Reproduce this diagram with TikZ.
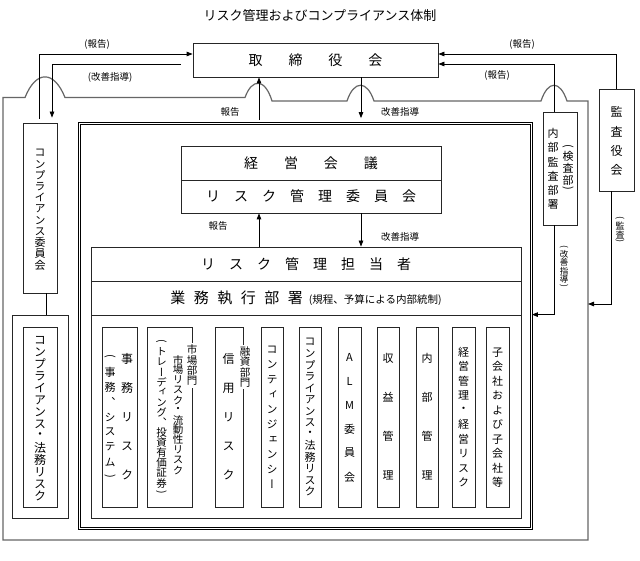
\documentclass[tikz,border=0pt]{standalone}
\usepackage{fontspec}
\usepackage{graphicx}
\usetikzlibrary{arrows.meta}
\setmainfont{Noto Sans CJK JP}
\newfontfamily\jpv[RawFeature=+vert]{Noto Sans CJK JP}
\makeatletter
\newlength\tatesp
\newcommand\tate[3][.5]{\def\tate@f{#1}\setlength\tatesp{#2}\vbox{\offinterlineskip\tate@a#3\@nil}}
\def\tate@a#1{\ifx#1\@nil\else\tate@c#1\expandafter\tate@a\fi}
\def\tate@c#1{%
  \ifx#1(\tate@p{\rotatebox[origin=c]{-90}{(}}%
  \else\ifx#1)\tate@p{\rotatebox[origin=c]{-90}{)}}%
  \else\hbox to 1.02em{\hss\vbox to\tatesp{\vss\hbox{#1}\vss}\hss}\fi\fi}
\def\tate@p#1{\hbox to 1.02em{\hss\vbox to \tate@f\tatesp{\vss\hbox{#1}\vss}\hss}}
\newcommand\spc[2]{\def\spc@g{\hspace{#1}}\spc@a#2\@nil}
\def\spc@a#1{\ifx#1\@nil\else#1\expandafter\spc@b\fi}
\def\spc@b#1{\ifx#1\@nil\else\spc@g#1\expandafter\spc@b\fi}
\makeatother
\tikzset{
  box/.style={draw=black!85, line width=0.8pt, inner sep=0pt},
  arr/.style={draw=black, line width=0.8pt, -{Triangle[length=6pt,width=4.5pt]}},
  conn/.style={draw=black, line width=0.8pt},
  lbl/.style={inner sep=0pt, font=\fontsize{9.5}{9.5}\selectfont},
  vt/.style={inner sep=0pt, font=\jpv\fontsize{#1}{#1}\selectfont},
  vt/.default=11,
  big/.style={font=\fontsize{14}{14}\selectfont},
}
\begin{document}
\begin{tikzpicture}[x=1pt,y=-1pt]
\useasboundingbox[fill=white] (0,0) rectangle (640,561);
% title
\node[inner sep=0pt, font=\fontsize{13}{13}\selectfont] (title) at (320,16) {リスク管理およびコンプライアンス体制};
% outer frame line with hops
\draw[black!60, line width=1.2pt] (3,540) -- (3,97.5) -- (25,97.5)
  .. controls (36,70) and (54,70) .. (65,97.5) -- (245,97.5)
  .. controls (252,78) and (265,78) .. (272,101) -- (347,101)
  .. controls (354,80) and (367,80) .. (374,101) -- (541,101)
  .. controls (548,80) and (560,80) .. (567,101) -- (588,101) -- (588,540) -- cycle;
\coordinate (oR) at (588,304);
\coordinate (xrep) at (259,0);
\coordinate (xguide) at (361,0);
% board
\node[box, big, minimum width=245pt, minimum height=34pt] (board) at (315.5,60) {\spc{26pt}{取締役会}};
% compliance committee
\node[box, minimum width=34pt, minimum height=170pt] (ccomm) at (40,208) {};
\node[vt=11] (ccommt) at (40,209) {\tate{11.2pt}{コンプライアンス委員会}};
\node[box, minimum width=56pt, minimum height=203pt] (clegalout) at (40,416.5) {};
\node[box, minimum width=34pt, minimum height=180pt] (clegal) at (40,417) {};
\node[vt=12] (clegalt) at (40,418) {\tate{12pt}{コンプライアンス・法務リスク}};
% double frame
\node[draw=black, line width=0.8pt, double=white, double distance=1.4pt, inner sep=0pt,
      minimum width=452pt, minimum height=405pt] (frame) at (305.5,326) {};
% management
\node[box, big, minimum width=260pt, minimum height=34pt] (mgmt) at (311,163) {\spc{26pt}{経営会議}};
\node[box, big, minimum width=260pt, minimum height=33pt] (rmc) at (311,196.5) {\spc{14pt}{リスク管理委員会}};
% risk officer block
\node[box, big, minimum width=430pt, minimum height=34pt] (rtop) at (306,264) {\spc{14pt}{リスク管理担当者}};
\node[box, minimum width=430pt, minimum height=34pt] (rmid) at (306,298)
  {{\fontsize{15}{15}\selectfont\spc{8.5pt}{業務執行部署}}\hspace{6pt}{\fontsize{10.5}{10.5}\selectfont(規程、予算による内部統制)}};
\node[box, minimum width=430pt, minimum height=203pt] (rbody) at (306,416.5) {};
% sub boxes
\node[box, minimum width=35pt, minimum height=180pt] (s1) at (119.5,417) {};
\node[vt=12] (s1a) at (127,417) {\tate{29pt}{事務リスク}};
\node[vt=11] (s1b) at (110,417) {\tate[1]{15pt}{(事務、システム)}};
\node[box, minimum width=45pt, minimum height=180pt] (s2) at (169.5,417) {};
\node[vt=10.5] (s2a) at (178,415) {\tate{10pt}{市場リスク・流動性リスク}};
\node[vt=10.5] (s2b) at (161.5,417.5) {\tate[1]{10.1pt}{(トレーディング、投資有価証券)}};
\node[vt=10.5, fill=white, inner sep=1pt] (s2l) at (192,365.5) {\tate{10.5pt}{市場部門}};
\node[box, minimum width=28pt, minimum height=180pt] (s3) at (229,417) {};
\node[vt=12] (s3a) at (228.5,417) {\tate{29pt}{信用リスク}};
\node[vt=10.5, fill=white, inner sep=1pt] (s3l) at (245,367) {\tate{10.5pt}{融資部門}};
\node[box, vt=11, minimum width=22pt, minimum height=180pt] (s4) at (272,417) {\tate{15pt}{コンティンジェンシー}};
\node[box, vt=11, minimum width=22pt, minimum height=180pt] (s5) at (310,417) {\tate{11.5pt}{コンプライアンス・法務リスク}};
\node[box, vt=11, minimum width=23pt, minimum height=180pt] (s6) at (349.5,417) {\tate{24pt}{ALM委員会}};
\node[box, vt=11, minimum width=22pt, minimum height=180pt] (s7) at (388,417) {\tate{39pt}{収益管理}};
\node[box, vt=11, minimum width=22pt, minimum height=180pt] (s8) at (427,417) {\tate{39pt}{内部管理}};
\node[box, vt=11, minimum width=23pt, minimum height=180pt] (s9) at (463.5,417.5) {\tate{14.5pt}{経営管理・経営リスク}};
\node[box, vt=11, minimum width=23pt, minimum height=180pt] (s10) at (497.5,417.5) {\tate{14.5pt}{子会社および子会社等}};
% internal audit
\node[box, minimum width=34pt, minimum height=113pt] (audit) at (560,168.5) {};
\node[vt=11] (audita) at (553,169) {\tate{14.4pt}{内部監査部署}};
\node[vt=11] (auditb) at (568,168) {\tate{12pt}{(検査部)}};
% corporate auditors
\node[box, minimum width=35pt, minimum height=102pt] (kansa) at (616.5,140) {};
\node[vt=12] (kansat) at (616.5,141) {\tate{19.3pt}{監査役会}};
% connectors
\draw[arr] ([xshift=-1pt,yshift=4pt]ccomm.north) |- ([yshift=6pt]board.west);
\draw[arr] ([xshift=-12pt,yshift=-4pt]board.west) -| ([xshift=12pt,yshift=5pt]ccomm.north);
\draw[arr] (kansa.north) |- ([yshift=6pt]board.east);
\draw[arr] ([xshift=-6pt]audit.north) |- ([yshift=-4pt]board.east);
\draw[arr] ([yshift=3pt]frame.north -| xrep) -- (board.south -| xrep);
\draw[arr] (board.south -| xguide) -- ([yshift=5pt]frame.north -| xguide);
\draw[arr] (rtop.north -| xrep) -- (rmc.south -| xrep);
\draw[arr] (rmc.south -| xguide) -- (rtop.north -| xguide);
\draw[arr] ([xshift=-6pt]audit.south) |- (frame.east |- rbody.north);
\draw[arr] ([xshift=-5.5pt]kansa.south) |- (oR);
\draw[conn] ([xshift=6pt]ccomm.south) -- ([xshift=6pt]clegalout.north);
% labels
\node[lbl] (l1) at (97,44) {(報告)};
\node[lbl] (l2) at (110,77) {(改善指導)};
\node[lbl] (l3) at (522,44) {(報告)};
\node[lbl] (l4) at (497,75) {(報告)};
\node[lbl] (l5) at (230,112) {報告};
\node[lbl] (l6) at (400,112) {改善指導};
\node[lbl] (l7) at (218,226) {報告};
\node[lbl] (l8) at (400,237) {改善指導};
\node[vt=8.5] (l9) at (564,267) {\tate{8.5pt}{(改善指導)}};
\node[vt=9] (l10) at (620,230) {\tate{9pt}{(監査)}};
\end{tikzpicture}
\end{document}
